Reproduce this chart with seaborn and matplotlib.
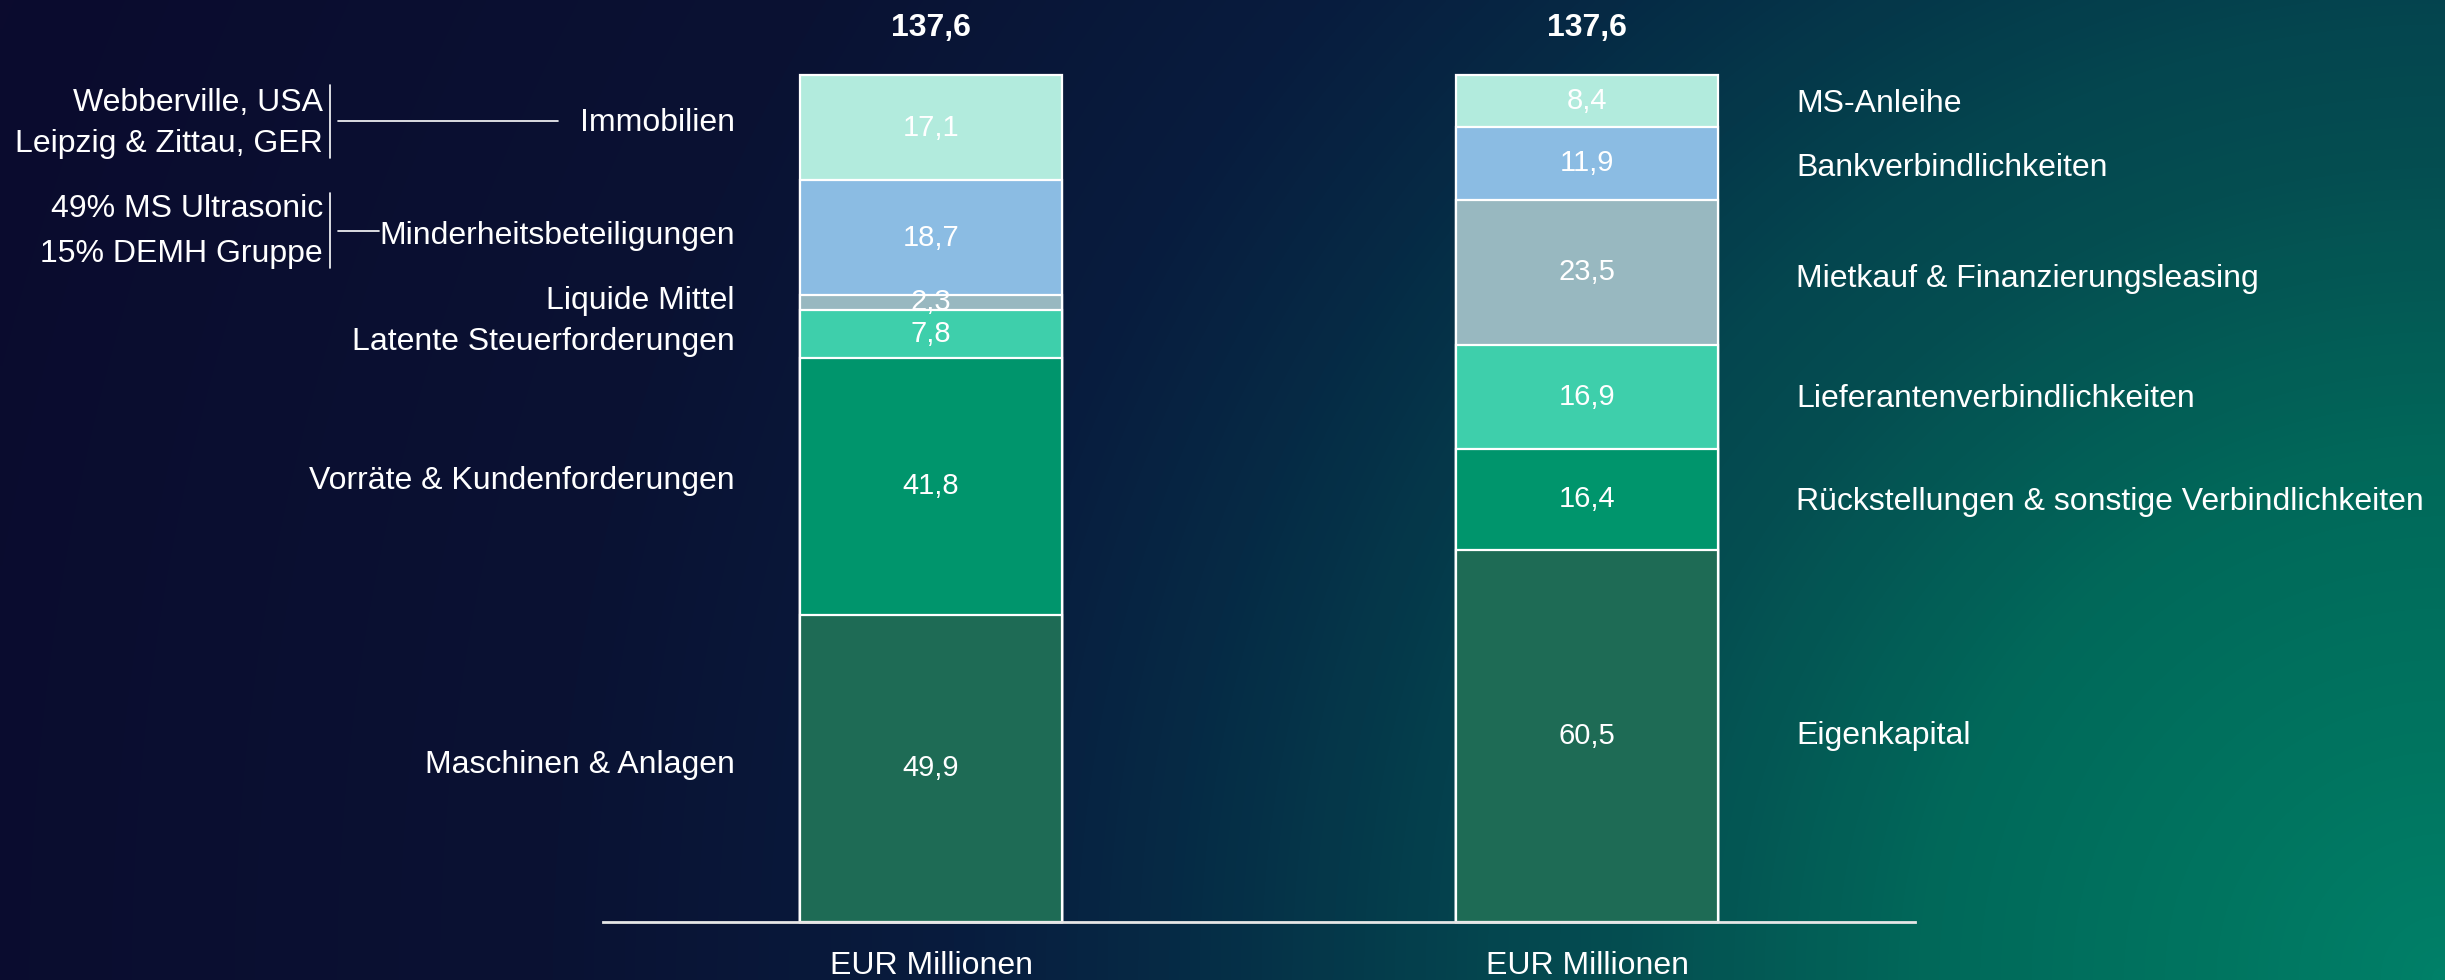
import numpy as np
import pandas as pd
import seaborn as sns
import matplotlib
matplotlib.use("Agg")
import matplotlib.pyplot as plt
from matplotlib.colors import LinearSegmentedColormap

sns.set_style("white")
plt.rcParams['font.family'] = ['Liberation Sans', 'DejaVu Sans']

# data
categories = ["Aktiva", "Passiva"]
aktiva_labels = ["Maschinen & Anlagen", "Vorräte & Kundenforderungen",
                 "Latente Steuerforderungen", "Liquide Mittel",
                 "Minderheitsbeteiligungen", "Immobilien"]
aktiva_values = [49.9, 41.8, 7.8, 2.3, 18.7, 17.1]
passiva_labels = ["Eigenkapital", "Rückstellungen & sonstige Verbindlichkeiten",
                  "Lieferantenverbindlichkeiten", "Mietkauf & Finanzierungsleasing",
                  "Bankverbindlichkeiten", "MS-Anleihe"]
passiva_values = [60.5, 16.4, 16.9, 23.5, 11.9, 8.4]
totals = [137.6, 137.6]
unit_label = "EUR Millionen"
immo_notes = ["Webberville, USA", "Leipzig & Zittau, GER"]
beteil_notes = ["49% MS Ultrasonic", "15% DEMH Gruppe"]

segment_colors = ["#1e6b55", "#00956c", "#3ecfab", "#98b8c0", "#8bbce3", "#b2ebdd"]


def fmt(v):
    return f"{v:.1f}".replace(".", ",")


W, H = 2445, 980
fig = plt.figure(figsize=(W / 100, H / 100), dpi=100)

# background: radial gradient from the bottom-right corner (teal -> navy)
xx, yy = np.meshgrid(np.linspace(0, W, 490), np.linspace(0, H, 196))
d = np.hypot(W - xx, H - yy)
dmax = np.hypot(W, H)
stops = [(0, "#008068"), (224, "#007560"), (505, "#01695a"), (816, "#054e51"),
         (953, "#04464f"), (1277, "#062a45"), (1488, "#081c3e"),
         (1900, "#0a1233"), (dmax, "#0b0b2e")]
bg_cmap = LinearSegmentedColormap.from_list("bg", [(p / dmax, c) for p, c in stops])
bg = fig.add_axes([0, 0, 1, 1])
bg.imshow(d, cmap=bg_cmap, vmin=0, vmax=dmax, aspect='auto',
          extent=[0, 1, 0, 1], origin='upper', interpolation='bilinear')
bg.axis('off')

ax = fig.add_axes([603 / W, 58 / H, 1312 / W, 847 / H])
ax.patch.set_alpha(0)

cum_a = np.cumsum(aktiva_values)
cum_p = np.cumsum(passiva_values)

# stacked bars: draw cumulative heights from the top layer down
for i in reversed(range(len(aktiva_values))):
    layer = pd.DataFrame({"side": categories, "value": [cum_a[i], cum_p[i]]})
    sns.barplot(data=layer, x="side", y="value", color=segment_colors[i],
                saturation=1, width=0.4, edgecolor="white", linewidth=1.6,
                errorbar=None, ax=ax)

for p in ax.patches:
    p.set_clip_on(False)

ax.set_xlim(-0.5, 1.5)
ax.set_ylim(0, totals[0])

lab_kw = dict(color="white", fontsize=23, clip_on=False)
val_kw = dict(color="white", fontsize=21)

# segment values and totals
for col, (vals, cum) in enumerate([(aktiva_values, cum_a), (passiva_values, cum_p)]):
    for v, c in zip(vals, cum):
        ax.text(col, c - v / 2, fmt(v), ha="center", va="center", **val_kw)
    ax.text(col, totals[col] + 7.6, fmt(totals[col]), ha="center", va="center",
            fontweight="bold", color="white", fontsize=23, clip_on=False)

# category labels left
nudge_a = [0.5, 0.9, -1.4, 0.3, 0.3, 0.7]
for lab, v, c, n in zip(aktiva_labels, aktiva_values, cum_a, nudge_a):
    ax.text(-0.299, c - v / 2 + n, lab, ha="right", va="center", **lab_kw)

# category labels right
nudge_p = [0.0, -0.5, -0.4, -1.1, -0.7, -0.5]
for lab, v, c, n in zip(passiva_labels, passiva_values, cum_p, nudge_p):
    ax.text(1.319, c - v / 2 + n, lab, ha="left", va="center", **lab_kw)

# bracket notes
line_kw = dict(color="white", lw=1.2, clip_on=False)
ax.text(-0.927, 133.0, immo_notes[0], ha="right", va="center", **lab_kw)
ax.text(-0.927, 126.4, immo_notes[1], ha="right", va="center", **lab_kw)
ax.plot([-0.916, -0.916], [124.1, 136.0], **line_kw)
ax.plot([-0.904, -0.569], [130.1, 130.1], **line_kw)

ax.text(-0.927, 115.8, beteil_notes[0], ha="right", va="center", **lab_kw)
ax.text(-0.927, 108.5, beteil_notes[1], ha="right", va="center", **lab_kw)
ax.plot([-0.916, -0.916], [106.2, 118.4], **line_kw)
ax.plot([-0.904, -0.841], [112.3, 112.3], **line_kw)

# axes styling
for s in ["left", "top", "right"]:
    ax.spines[s].set_visible(False)
ax.spines["bottom"].set_color("#e6e6e6")
ax.spines["bottom"].set_linewidth(2)
ax.set_yticks([])
ax.set_xticks([0, 1])
ax.set_xticklabels([unit_label, unit_label], color="white", fontsize=23)
ax.tick_params(axis="x", length=0, pad=21)
ax.set_xlabel("")
ax.set_ylabel("")

fig.savefig("out.png", dpi=100)
